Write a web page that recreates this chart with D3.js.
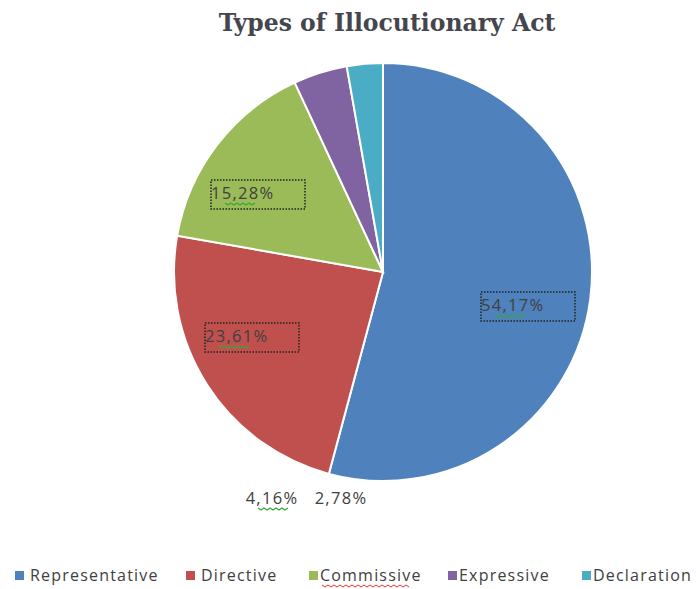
<!DOCTYPE html>
<html lang="en">
<head>
<meta charset="utf-8">
<script src="https://cdn.jsdelivr.net/npm/d3@7"></script>
<style>
	body { margin: 0; background: #fff; }
	svg { display: block; }
	.title { font-family: 'DejaVu Serif', serif; font-weight: bold; font-size: 23.5px; fill: #45454d; }
	.lbl { font-family: 'Open Sans', sans-serif; font-size: 16.5px; letter-spacing: 1.3px; fill: #404040; }
	.leg { font-family: 'Open Sans', sans-serif; font-size: 16px; letter-spacing: 1.2px; fill: #404040; }
</style>
</head>
<body>
<div id="chart"></div>
<script>
var width = 696, height = 589;

// chart data
var categories = ["Representative", "Directive", "Commissive", "Expressive", "Declaration"];
var values = [54.17, 23.61, 15.28, 4.16, 2.78];
var labels = ["54,17%", "23,61%", "15,28%", "4,16%", "2,78%"];
var colors = ["#4f81bd", "#c0504d", "#9bbb59", "#8064a2", "#4bacc6"];

var cx = 383, cy = 272, r = 209;

var svg = d3.select("#chart").append("svg")
	.attr("width", width)
	.attr("height", height);

svg.append("text")
	.attr("class", "title")
	.attr("x", 387)
	.attr("y", 31)
	.attr("text-anchor", "middle")
	.text("Types of Illocutionary Act");

var pie = d3.pie().sort(null).value(function(d) { return d; });
var arc = d3.arc().innerRadius(0).outerRadius(r);
var arcs = pie(values);

var g = svg.append("g").attr("transform", "translate(" + cx + "," + cy + ")");

g.selectAll(".slice")
	.data(arcs)
	.enter()
	.append("path")
	.attr("class", "slice")
	.attr("d", arc)
	.style("fill", function(d, i) { return colors[i]; })
	.style("stroke", "#fff")
	.style("stroke-width", 2);

// label positions: inside slices (boxed) for the big ones, below the pie for the small ones
var labelPos = [
	[145, 34],
	[-131, 65],
	[-125, -78],
	[-111, 227],
	[-42, 227]
];
var boxed = [true, true, true, false, false];

var lg = g.selectAll(".lblg")
	.data(arcs)
	.enter()
	.append("g")
	.attr("class", "lblg")
	.attr("transform", function(d, i) { return "translate(" + labelPos[i][0] + "," + labelPos[i][1] + ")"; });

lg.filter(function(d, i) { return boxed[i]; })
	.append("rect")
	.attr("x", -47)
	.attr("y", -14)
	.attr("width", 94)
	.attr("height", 29)
	.style("fill", "none")
	.style("stroke", "#222")
	.style("stroke-width", 1.5)
	.style("stroke-dasharray", "1.5,1.5");

lg.append("text")
	.attr("class", "lbl")
	.attr("x", function(d, i) { return boxed[i] ? -47 : 0; })
	.attr("y", 5)
	.attr("text-anchor", function(d, i) { return boxed[i] ? "start" : "middle"; })
	.text(function(d, i) { return labels[i]; });

// green squiggles under the decimals (spell check marks)
function squiggle(x0, x1, y) {
	var s = "M" + x0 + "," + y;
	for (var x = x0 + 3, k = 0; x <= x1; x += 3, k++) {
		s += " L" + x + "," + (y + (k % 2 ? 0 : 2));
	}
	return s;
}
var sq = [[-33, -3], [-33, -3], [-33, -3], [-14, 16], null];
lg.filter(function(d, i) { return sq[i]; })
	.append("path")
	.attr("d", function(d) { var j = values.indexOf(d.data); return squiggle(sq[j][0], sq[j][1], 9); })
	.style("fill", "none")
	.style("stroke", "#3aa53a")
	.style("stroke-width", 1.2);

// legend
var legX = [15, 186, 309, 448, 582];
var leg = svg.selectAll(".legi")
	.data(categories)
	.enter()
	.append("g")
	.attr("class", "legi")
	.attr("transform", function(d, i) { return "translate(" + legX[i] + ",571)"; });

leg.append("rect")
	.attr("width", 9)
	.attr("height", 9)
	.style("fill", function(d, i) { return colors[i]; });

leg.append("text")
	.attr("class", "leg")
	.attr("x", function(d, i) { return i >= 2 ? 11 : 15; })
	.attr("y", 10)
	.text(function(d) { return d; });

// red squiggle under Commissive
svg.append("path")
	.attr("d", squiggle(322, 410, 585))
	.style("fill", "none")
	.style("stroke", "#e03030")
	.style("stroke-width", 1);
</script>
</body>
</html>
